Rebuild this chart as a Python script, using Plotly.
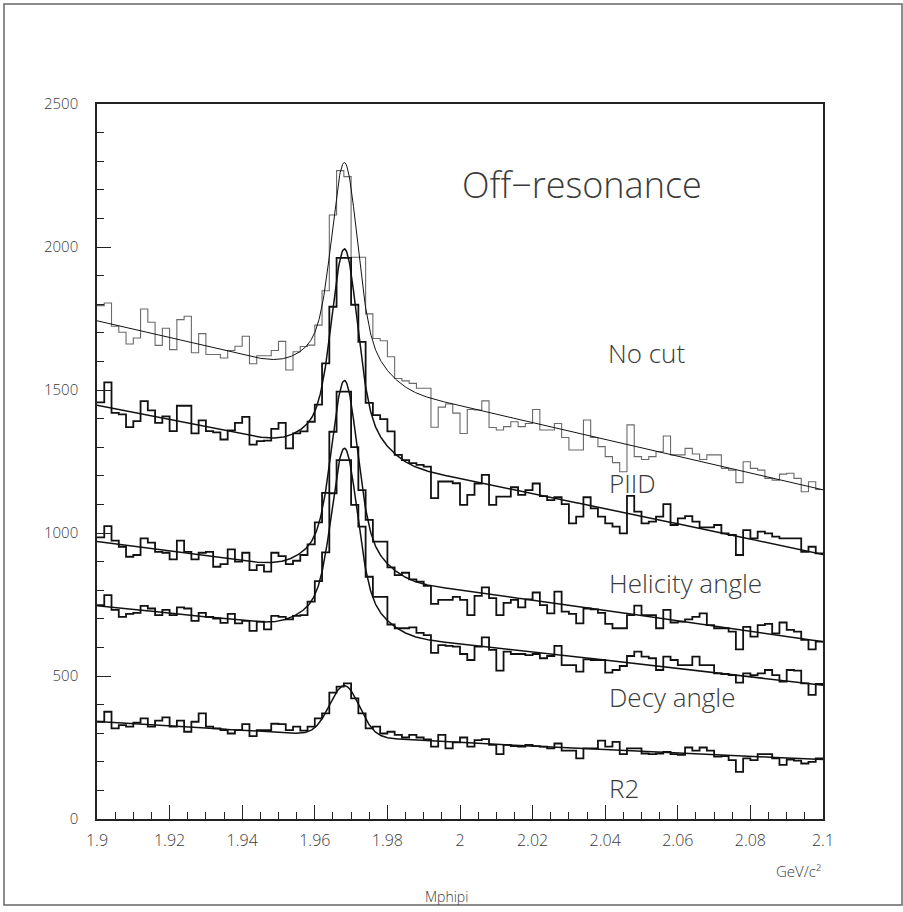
import numpy as np
import plotly.graph_objects as go

# ---- binning (100 bins of 0.002 GeV/c^2 between 1.9 and 2.1) ----
x_min, x_max, n_bins = 1.9, 2.1, 100
bin_edges = np.linspace(x_min, x_max, n_bins + 1)

# ---- histogram contents ----
no_cut = [1795, 1804, 1723, 1702, 1661, 1682, 1783, 1737, 1656, 1716,
          1641, 1746, 1758, 1630, 1697, 1624, 1624, 1612, 1638, 1653,
          1688, 1592, 1620, 1620, 1638, 1670, 1570, 1634, 1652, 1657,
          1727, 1847, 2112, 2267, 2246, 1964, 1964, 1766, 1680, 1672,
          1616, 1540, 1532, 1523, 1506, 1506, 1370, 1440, 1451, 1419,
          1348, 1432, 1430, 1462, 1369, 1360, 1372, 1389, 1372, 1383,
          1432, 1360, 1360, 1383, 1334, 1290, 1290, 1395, 1334, 1302,
          1267, 1246, 1214, 1378, 1267, 1257, 1267, 1284, 1339, 1273,
          1273, 1296, 1276, 1257, 1273, 1273, 1226, 1220, 1176, 1249,
          1226, 1220, 1191, 1185, 1206, 1209, 1191, 1144, 1179, 1152]

piid = [1457, 1527, 1420, 1415, 1370, 1391, 1461, 1429, 1385, 1408,
        1356, 1445, 1445, 1348, 1394, 1356, 1352, 1327, 1359, 1385,
        1406, 1309, 1321, 1323, 1364, 1385, 1296, 1348, 1355, 1389,
        1449, 1593, 1791, 1962, 1962, 1798, 1668, 1455, 1412, 1398,
        1355, 1273, 1255, 1244, 1238, 1232, 1122, 1180, 1180, 1174,
        1098, 1133, 1173, 1203, 1098, 1127, 1127, 1160, 1133, 1150,
        1173, 1129, 1115, 1125, 1101, 1034, 1057, 1125, 1086, 1057,
        1034, 1022, 999, 1130, 1075, 1034, 1040, 1057, 1101, 1028,
        1051, 1059, 1040, 1020, 1020, 1028, 999, 993, 923, 1010,
        981, 1005, 999, 987, 981, 981, 981, 934, 952, 929]

helicity = [985, 1024, 973, 952, 917, 923, 981, 966, 934, 931,
            908, 973, 934, 908, 931, 934, 882, 891, 943, 900,
            931, 870, 888, 865, 931, 919, 891, 903, 923, 960,
            1037, 1140, 1354, 1494, 1494, 1300, 1150, 1046, 970, 970,
            880, 853, 861, 838, 830, 815, 752, 766, 766, 777,
            766, 713, 780, 810, 772, 713, 756, 766, 740, 768,
            792, 748, 719, 795, 725, 717, 684, 736, 733, 721,
            682, 667, 667, 713, 746, 713, 713, 667, 731, 687,
            690, 698, 707, 719, 678, 667, 667, 655, 593, 672,
            638, 678, 682, 649, 687, 661, 655, 626, 593, 620]

decy = [748, 783, 731, 707, 717, 721, 745, 736, 713, 731,
        713, 740, 736, 693, 721, 707, 701, 686, 717, 684,
        693, 658, 690, 663, 710, 707, 698, 710, 713, 760,
        832, 932, 1139, 1255, 1255, 1098, 1022, 847, 777, 777,
        680, 667, 667, 670, 651, 643, 581, 608, 605, 603,
        577, 556, 603, 635, 591, 519, 585, 577, 577, 573,
        577, 562, 570, 605, 538, 538, 515, 558, 556, 556,
        512, 521, 535, 570, 585, 568, 562, 521, 568, 556,
        538, 538, 568, 538, 538, 509, 507, 503, 477, 509,
        503, 509, 521, 503, 480, 521, 519, 474, 434, 472]

r2 = [340, 375, 317, 328, 323, 337, 352, 323, 344, 355,
      323, 344, 305, 340, 369, 323, 317, 311, 299, 311,
      332, 290, 311, 311, 333, 332, 311, 323, 309, 323,
      352, 369, 442, 463, 474, 422, 369, 317, 323, 299,
      305, 294, 285, 294, 285, 278, 253, 294, 247, 268,
      285, 253, 276, 279, 259, 227, 259, 255, 253, 259,
      255, 253, 247, 264, 239, 239, 212, 247, 247, 274,
      253, 270, 227, 247, 247, 229, 227, 229, 235, 227,
      224, 250, 239, 250, 239, 218, 220, 206, 165, 212,
      206, 227, 227, 212, 189, 208, 204, 194, 200, 212]

# ---- fitted curves: background read at 1.90 / 2.00 / 2.10, peak height & shape ----
bg_x = [1.90, 2.00, 2.10]
fit_bg = {
    "no_cut":   [1742, 1445, 1151],
    "piid":     [1447, 1190, 925],
    "helicity": [970, 800, 620],
    "decy":     [746, 612, 468],
    "r2":       [341, 268, 208],
}
fit_peak = {"no_cut": 2295, "piid": 1993, "helicity": 1533, "decy": 1296, "r2": 466}
fit_mean = 1.9682
fit_sigma_core = {"no_cut": 0.0033, "piid": 0.0033, "helicity": 0.0033, "decy": 0.0033, "r2": 0.0041}
fit_sigma_wide = {"no_cut": 0.008, "piid": 0.008, "helicity": 0.008, "decy": 0.008, "r2": 0.0041}
fit_core_frac = 0.75

labels = ["Off\u2212resonance", "No cut", "PIID", "Helicity angle", "Decy angle", "R2"]
label_x = [2.0, 2.0402, 2.0405, 2.0405, 2.0405, 2.0405]
label_y = [2217, 1629, 1175, 825, 427, 108]
label_size = [36, 26, 26, 26, 26, 26]

x_tickvals = [1.9, 1.92, 1.94, 1.96, 1.98, 2.0, 2.02, 2.04, 2.06, 2.08, 2.1]
x_ticktext = ["1.9", "1.92", "1.94", "1.96", "1.98", "2", "2.02", "2.04", "2.06", "2.08", "2.1"]
y_tickvals = [0, 500, 1000, 1500, 2000, 2500]

FONT = "Open Sans"


def fit_curve(key, xs):
    coef = np.polyfit(bg_x, fit_bg[key], 2)
    bg = np.polyval(coef, xs)
    amp = fit_peak[key] - np.polyval(coef, fit_mean)
    core = np.exp(-0.5 * ((xs - fit_mean) / fit_sigma_core[key]) ** 2)
    wide = np.exp(-0.5 * ((xs - fit_mean) / fit_sigma_wide[key]) ** 2)
    return bg + amp * (fit_core_frac * core + (1 - fit_core_frac) * wide)


fig = go.Figure()
series = [("no_cut", no_cut, "#6a6a6a", 1.1, 1.0),
          ("piid", piid, "#111111", 1.8, 1.5),
          ("helicity", helicity, "#111111", 1.8, 1.5),
          ("decy", decy, "#111111", 1.8, 1.5),
          ("r2", r2, "#111111", 1.8, 1.5)]

xs_fit = np.linspace(1.9, 2.1, 1201)
for key, vals, col, hw, fw in series:
    fig.add_trace(go.Scatter(x=bin_edges, y=list(vals) + [vals[-1]], mode="lines",
                             line=dict(color=col, width=hw, shape="hv"),
                             hoverinfo="skip", showlegend=False))
    fig.add_trace(go.Scatter(x=xs_fit, y=fit_curve(key, xs_fit), mode="lines",
                             line=dict(color="#111111", width=fw),
                             hoverinfo="skip", showlegend=False))

for txt, lx, ly, sz in zip(labels, label_x, label_y, label_size):
    fig.add_annotation(x=lx, y=ly, text=txt, showarrow=False, xanchor="left",
                       yanchor="middle", font=dict(size=sz, color="#3a3a3a",
                                                   family=FONT, weight=300))

fig.add_annotation(xref="paper", yref="paper", x=1.0, y=-0.056, text="GeV/c\u00b2",
                   showarrow=False, xanchor="right", yanchor="top",
                   font=dict(size=15, color="#3a3a3a", family=FONT, weight=300))
fig.add_annotation(xref="paper", yref="paper", x=0.482, y=-0.092, text="Mphipi",
                   showarrow=False, xanchor="center", yanchor="top",
                   font=dict(size=14, color="#3a3a3a", family=FONT, weight=300))

fig.add_shape(type="rect", xref="paper", yref="paper", x0=-0.1281, x1=1.1088,
              y0=-0.1203, y1=1.1399, line=dict(color="#666666", width=1.5))

fig.update_layout(
    width=903, height=912,
    margin=dict(l=97, r=80, t=104, b=93),
    paper_bgcolor="white", plot_bgcolor="white",
    font=dict(family=FONT, color="#333333"),
    xaxis=dict(range=[1.9, 2.1], tickvals=x_tickvals, ticktext=x_ticktext,
               ticks="inside", ticklen=14, tickwidth=1, tickcolor="#222",
               showline=True, linecolor="#222", linewidth=1.5, mirror=True,
               showgrid=False, zeroline=False, ticklabelstandoff=6,
               minor=dict(dtick=0.005, tick0=1.9, ticks="inside", ticklen=7,
                          tickcolor="#222", showgrid=False),
               tickfont=dict(size=16, family=FONT, weight=300, color="#3a3a3a")),
    yaxis=dict(range=[0, 2500], tickvals=y_tickvals,
               ticks="inside", ticklen=14, tickwidth=1, tickcolor="#222",
               showline=True, linecolor="#222", linewidth=1.5, mirror=True,
               showgrid=False, zeroline=False,
               minor=dict(dtick=100, tick0=0, ticks="inside", ticklen=7,
                          tickcolor="#222", showgrid=False),
               ticklabelstandoff=14,
               tickfont=dict(size=15, family=FONT, weight=300, color="#3a3a3a")),
)

fig.write_html("out.html", config={"displayModeBar": False},
               post_script="document.body.style.margin='0px';")
